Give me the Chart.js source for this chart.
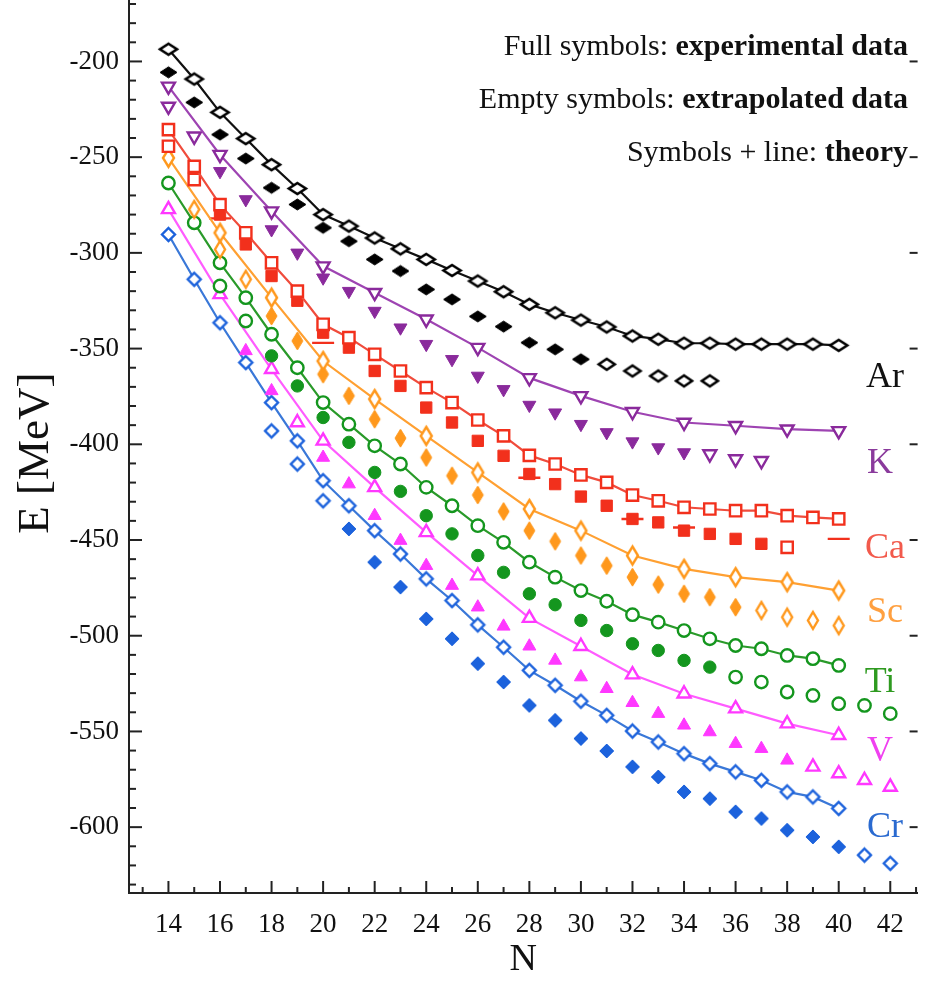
<!DOCTYPE html>
<html><head><meta charset="utf-8">
<script src="https://cdn.jsdelivr.net/npm/chart.js@4/dist/chart.umd.min.js"></script>
<style>html,body{margin:0;padding:0;background:#fff}#wrap{width:931px;height:986px;position:relative}</style>
</head><body><div id="wrap"><canvas id="c"></canvas></div>
<script>
// ---------- data (N, binding energy in MeV) ----------
const xTickLabels = [14,16,18,20,22,24,26,28,30,32,34,36,38,40,42];
const yTickLabels = [-600,-550,-500,-450,-400,-350,-300,-250,-200];

const ArThN = [14,15,16,17,18,19,20,21,22,23,24,25,26,27,28,29,30,31,32,33,34,35,36,37,38,39,40];
const ArThE = [-193.6,-209.2,-226.6,-240.3,-253.9,-266.4,-280.0,-286.0,-292.2,-297.9,-303.4,-309.2,-314.7,-320.3,-326.9,-331.3,-335.1,-338.7,-343.4,-345.1,-347.2,-347.2,-347.7,-347.7,-347.7,-347.7,-348.3];
const ArExpN = [14,15,16,17,18,19,20,21,22,23,24,25,26,27,28,29,30];
const ArExpE = [-205.7,-221.4,-238.2,-250.7,-266.0,-274.7,-286.9,-293.9,-303.4,-309.5,-319.1,-324.3,-333.2,-338.5,-346.9,-350.4,-355.6];
const ArExtN = [31,32,33,34,35];
const ArExtE = [-358.2,-361.7,-364.3,-366.9,-366.9];

const KThN = [14,16,18,20,22,24,26,28,30,32,34,36,38,40];
const KThE = [-213.0,-248.7,-278.2,-306.9,-320.8,-334.7,-349.5,-365.3,-374.7,-383.0,-388.6,-390.3,-392.1,-393.0];
const KExpN = [16,17,18,19,20,21,22,23,24,25,26,27,28,29,30,31,32,33,34];
const KExpE = [-257.4,-272.1,-287.8,-300.0,-313.0,-320.0,-330.4,-339.1,-347.7,-355.6,-364.3,-371.3,-379.5,-383.5,-389.5,-393.8,-398.6,-401.7,-404.3];
const KExtN = [14,15,35,36,37];
const KExtE = [-223.5,-239.1,-405.1,-407.7,-408.6];

const CaThN = [14,15,16,17,18,19,20,21,22,23,24,25,26,27,28,29,30,31,32,33,34,35,36,37,38,39,40];
const CaThE = [-235.6,-254.8,-274.8,-289.5,-305.2,-320.0,-337.3,-344.3,-353.0,-361.7,-370.4,-378.2,-387.3,-395.6,-405.8,-410.3,-416.0,-419.9,-426.5,-429.5,-432.9,-433.8,-434.7,-434.7,-437.3,-438.2,-439.0];
const CaExpN = [16,17,18,19,20,21,22,23,24,25,26,27,28,29,30,31,32,33,34,35,36,37];
const CaExpE = [-280.0,-295.6,-312.1,-325.0,-341.7,-349.5,-361.7,-369.5,-380.8,-388.6,-398.2,-406.0,-415.5,-420.8,-427.3,-432.1,-439.0,-440.8,-445.1,-446.8,-449.4,-452.0];
const CaExtN = [14,15,38];
const CaExtE = [-244.3,-261.7,-453.8];
const CaDashN = [16,20,28,32,34,40];
const CaDashE = [-282.0,-347.0,-417.5,-439.0,-443.5,-449.4];

const ScThN = [14,16,18,20,22,24,26,28,30,32,34,36,38,40];
const ScThE = [-250.4,-289.5,-323.4,-356.5,-376.4,-395.6,-414.7,-433.8,-445.1,-458.1,-465.1,-469.4,-472.0,-476.4];
const ScExpN = [18,19,20,21,22,23,24,25,26,27,28,29,30,31,32,33,34,35,36];
const ScExpE = [-333.0,-346.0,-363.4,-374.7,-386.9,-396.8,-406.9,-416.4,-426.5,-435.1,-445.1,-450.7,-458.1,-463.4,-469.4,-473.3,-478.1,-479.9,-485.1];
const ScExtN = [15,16,17,37,38,39,40];
const ScExtE = [-277.3,-298.2,-313.8,-486.8,-490.3,-492.0,-494.7];

const TiThN = [14,15,16,17,18,19,20,21,22,23,24,25,26,27,28,29,30,31,32,33,34,35,36,37,38,39,40];
const TiThE = [-263.5,-284.3,-305.2,-323.4,-342.5,-360.0,-378.2,-389.5,-400.8,-410.3,-422.5,-432.1,-442.5,-451.2,-461.6,-469.4,-476.4,-482.0,-489.0,-492.9,-497.3,-501.6,-505.1,-506.8,-510.3,-512.0,-515.5];
const TiExpN = [18,19,20,21,22,23,24,25,26,27,28,29,30,31,32,33,34,35];
const TiExpE = [-353.8,-369.5,-386.0,-399.0,-414.7,-424.6,-437.3,-446.8,-458.1,-466.9,-478.1,-483.8,-492.0,-497.3,-504.2,-507.7,-512.9,-516.4];
const TiExtN = [16,17,36,37,38,39,40,41,42];
const TiExtE = [-317.3,-335.6,-521.6,-524.2,-529.4,-531.2,-535.5,-536.4,-540.7];

const VThN = [14,16,18,20,22,24,26,28,30,32,34,36,38,40];
const VThE = [-277.3,-321.7,-360.8,-398.2,-422.5,-446.0,-468.6,-490.8,-505.5,-520.3,-530.3,-538.1,-545.9,-552.0];
const VExpN = [17,18,20,21,22,23,24,25,26,27,28,29,30,31,32,33,34,35,36,37,38];
const VExpE = [-351.2,-372.1,-406.9,-420.8,-437.3,-450.3,-463.4,-473.8,-485.1,-495.1,-505.5,-512.9,-521.6,-527.7,-535.0,-540.7,-546.8,-550.3,-556.4,-559.0,-565.1];
const VExtN = [19,39,40,41,42];
const VExtE = [-388.6,-568.5,-572.0,-575.5,-579.0];

const CrThN = [14,15,16,17,18,19,20,21,22,23,24,25,26,27,28,29,30,31,32,33,34,35,36,37,38,39,40];
const CrThE = [-290.4,-313.8,-336.5,-357.3,-378.2,-398.2,-419.0,-432.1,-445.1,-457.3,-470.3,-481.6,-494.3,-506.0,-518.1,-525.9,-534.2,-541.6,-549.8,-555.5,-561.6,-566.8,-571.1,-575.5,-581.6,-584.2,-590.2];
const CrExpN = [21,22,23,24,25,26,27,28,29,30,31,32,33,34,35,36,37,38,39,40];
const CrExpE = [-444.2,-461.6,-474.6,-491.2,-501.6,-514.6,-524.2,-536.4,-544.2,-553.7,-560.2,-568.5,-573.8,-581.6,-585.1,-592.0,-595.5,-601.6,-605.1,-610.3];
const CrExtN = [18,19,20,41,42];
const CrExtE = [-393.0,-410.3,-429.5,-614.6,-618.9];

const elementNames = ['Ar','K','Ca','Sc','Ti','V','Cr'];
const annotLines = [
  ['Full symbols: ','experimental data'],
  ['Empty symbols: ','extrapolated data'],
  ['Symbols + line: ','theory']
];

// ---------- styling ----------
const COL = {Ar:'#000000',K:'#8A2A9C',Ca:'#F2301C',Sc:'#FF981C',Ti:'#14961E',V:'#FF38FF',Cr:'#1C62DC'};
const LINECOL = {Ar:'#111111',K:'#9E44B2',Ca:'#F04C3C',Sc:'#FFA032',Ti:'#2A9A2A',V:'#FF5CFF',Cr:'#3A78D8'};
const LABCOL = {Ar:'#111111',K:'#8A3A9C',Ca:'#F25A4C',Sc:'#FFA040',Ti:'#2E9A20',V:'#F040F0',Cr:'#2A6AD0'};
const SERIF = "'Liberation Serif','DejaVu Serif',serif";

function diamond(w,h,color,filled,lw){
  const c=document.createElement('canvas');
  const pad=Math.ceil(lw)+1;
  c.width=w+2*pad; c.height=h+2*pad;
  const g=c.getContext('2d');
  const cx=c.width/2, cy=c.height/2;
  g.beginPath(); g.moveTo(cx,cy-h/2); g.lineTo(cx+w/2,cy); g.lineTo(cx,cy+h/2); g.lineTo(cx-w/2,cy); g.closePath();
  g.fillStyle=filled?color:'#ffffff'; g.fill();
  g.lineWidth=lw; g.strokeStyle=color; g.lineJoin='miter'; g.stroke();
  return c;
}
function pts(ns,es){ return ns.map((n,i)=>({x:n,y:es[i]})); }

const shapes = {
  Ar:{th:diamond(17,11,COL.Ar,false,2.6), exp:diamond(17,11,COL.Ar,true,1), ext:diamond(16,11,COL.Ar,false,2.6)},
  Sc:{th:diamond(11,18,COL.Sc,false,2.4), exp:diamond(11,18,COL.Sc,true,1), ext:diamond(10,17,COL.Sc,false,2.4)},
  Cr:{th:diamond(13,13,COL.Cr,false,2.4), exp:diamond(14,14,COL.Cr,true,1), ext:diamond(13,13,COL.Cr,false,2.4)}
};
function std(style,radius,rot){ return {style,radius,rot:rot||0}; }
const builtin = {
  K:std('triangle',7.5,180), Ca:std('rect',8), Ti:std('circle',6.2), V:std('triangle',7.5,0)
};

const series = [
  ['Ar',ArThN,ArThE,ArExpN,ArExpE,ArExtN,ArExtE],
  ['K',KThN,KThE,KExpN,KExpE,KExtN,KExtE],
  ['Ca',CaThN,CaThE,CaExpN,CaExpE,CaExtN,CaExtE],
  ['Sc',ScThN,ScThE,ScExpN,ScExpE,ScExtN,ScExtE],
  ['Ti',TiThN,TiThE,TiExpN,TiExpE,TiExtN,TiExtE],
  ['V',VThN,VThE,VExpN,VExpE,VExtN,VExtE],
  ['Cr',CrThN,CrThE,CrExpN,CrExpE,CrExtN,CrExtE]
];

const datasets=[];
series.forEach(([el,tn,te,en,ee,xn,xe])=>{
  const c=COL[el];
  const base={showLine:false,borderColor:c,pointBorderColor:c};
  function pstyle(kind){
    if(shapes[el]) return {pointStyle:shapes[el][kind],pointRadius:7,pointHoverRadius:7};
    const b=builtin[el];
    return {pointStyle:b.style,pointRadius:b.radius,pointHoverRadius:b.radius,pointRotation:b.rot};
  }
  datasets.push(Object.assign({label:el+' theory',data:pts(tn,te),showLine:true,borderColor:LINECOL[el],borderWidth:2.2,
    pointBorderColor:c,pointBackgroundColor:'#ffffff',pointBorderWidth:2.4,tension:0,fill:false},pstyle('th')));
  datasets.push(Object.assign({label:el+' exp',data:pts(en,ee),...base,pointBackgroundColor:c,pointBorderWidth:1},pstyle('exp')));
  datasets.push(Object.assign({label:el+' extrap',data:pts(xn,xe),...base,pointBackgroundColor:'#ffffff',pointBorderWidth:2.4},pstyle('ext')));
});
datasets.push({label:'Ca dash',data:pts(CaDashN,CaDashE),showLine:false,pointStyle:'line',pointRadius:11,
  pointBorderColor:COL.Ca,pointBorderWidth:2.4,borderColor:COL.Ca});

// ---------- decoration plugin ----------
const decor={
  id:'decor',
  afterDraw(chart){
    const {ctx,chartArea:a,scales:{x,y}}=chart;
    ctx.save();
    ctx.strokeStyle='#222'; ctx.lineWidth=2;
    const seg=(x1,y1,x2,y2)=>{ctx.beginPath();ctx.moveTo(x1,y1);ctx.lineTo(x2,y2);ctx.stroke();};
    // extend the left axis line to the top edge of the figure
    seg(a.left,0,a.left,a.top+1);
    for(let v=-630;v<=-160;v+=10){
      const py=y.getPixelForValue(v); if(py<0) continue;
      const major=(v%50===0); const L=major?13:7;
      seg(a.left,py,a.left+L,py);
      if(major) seg(a.right,py,a.right-8,py);
    }
    for(let n=13;n<=43;n++){
      const px=x.getPixelForValue(n); const L=(n%2===0)?12:6;
      seg(px,a.bottom,px,a.bottom-L);
    }
    // annotation text
    ctx.textAlign='right'; ctx.textBaseline='middle'; ctx.fillStyle='#111';
    const rx=908, ys=[47,100,153];
    annotLines.forEach((ln,i)=>{
      ctx.font='bold 30px '+SERIF;
      const bw=ctx.measureText(ln[1]).width;
      ctx.fillText(ln[1],rx,ys[i]);
      ctx.font='30px '+SERIF;
      ctx.fillText(ln[0],rx-bw,ys[i]);
    });
    // element labels
    const lp={Ar:[885,378],K:[880,464],Ca:[885,549],Sc:[885,613],Ti:[880,683],V:[880,752],Cr:[885,828]};
    ctx.textAlign='center'; ctx.font='36px '+SERIF;
    elementNames.forEach(el=>{ctx.fillStyle=LABCOL[el]; ctx.fillText(el,lp[el][0],lp[el][1]);});
    ctx.restore();
  }
};

const tickFont={family:SERIF,size:27};
new Chart(document.getElementById('c'),{
  type:'scatter',
  data:{datasets},
  options:{
    responsive:true,maintainAspectRatio:false,animation:false,
    layout:{padding:{top:0,right:11,left:0,bottom:0}},
    plugins:{legend:{display:false},tooltip:{enabled:false}},
    scales:{
      x:{type:'linear',min:12.47,max:43.06,
        grid:{display:false,drawTicks:false},
        border:{display:true,color:'#222',width:2},
        afterBuildTicks:s=>{s.ticks=xTickLabels.map(v=>({value:v}));},
        afterFit:s=>{s.height=93;s.paddingLeft=0;s.paddingRight=0;},
        ticks:{font:tickFont,color:'#111',padding:16,maxRotation:0,autoSkip:false,callback:v=>String(v)},
        title:{display:true,text:'N',font:{family:SERIF,size:38},color:'#111',padding:{top:0,bottom:3}}
      },
      y:{type:'linear',min:-634.4,max:-174.9,
        grid:{display:false,drawTicks:false},
        border:{display:true,color:'#222',width:2},
        afterBuildTicks:s=>{s.ticks=yTickLabels.map(v=>({value:v}));},
        afterFit:s=>{s.width=129;s.paddingTop=0;s.paddingBottom=0;},
        ticks:{font:tickFont,color:'#111',padding:10,autoSkip:false,callback:v=>String(v)},
        title:{display:true,text:'E [MeV]',font:{family:SERIF,size:45},color:'#111',padding:{top:9,bottom:0}}
      }
    }
  },
  plugins:[decor]
});
</script></body></html>
